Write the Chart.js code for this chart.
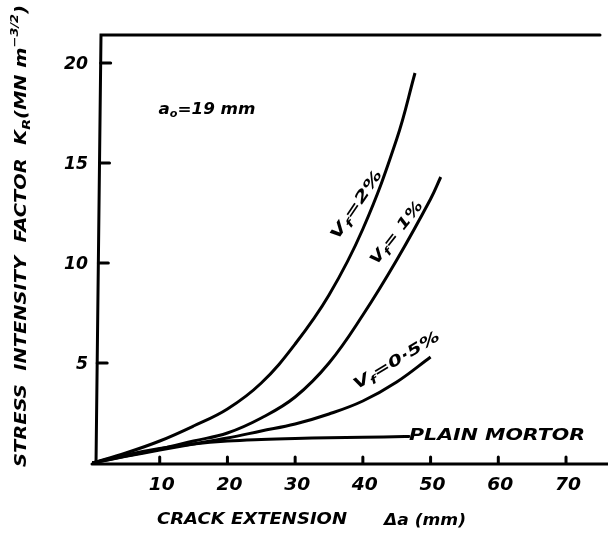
<!DOCTYPE html>
<html>
<head>
<meta charset="UTF-8">
<title>Crack extension vs K_R</title>
<script src="https://cdn.jsdelivr.net/npm/chart.js@4.4.0/dist/chart.umd.min.js"></script>
<style>
  html, body { margin: 0; padding: 0; background: #fff; }
  #wrap { width: 608px; height: 539px; }
</style>
</head>
<body>
<div id="wrap"><canvas id="myChart" width="608" height="539"></canvas></div>

<script>
// crack extension (mm) / K_R values
let vf2X = [0, 5, 10, 15, 20, 25, 30, 35, 40, 45, 47.7];
let vf2Y = [0, 0.5, 1.1, 1.85, 2.7, 4.0, 5.95, 8.4, 11.7, 16.2, 19.5];

let vf1X = [0, 5, 10, 15, 20, 25, 30, 35, 40, 45, 50, 51.5];
let vf1Y = [0, 0.35, 0.7, 1.1, 1.5, 2.25, 3.3, 5.0, 7.4, 10.15, 13.2, 14.3];

let vf05X = [0, 5, 10, 15, 20, 25, 30, 35, 40, 45, 50];
let vf05Y = [0, 0.33, 0.65, 0.95, 1.25, 1.6, 1.95, 2.45, 3.1, 4.05, 5.3];

let plainX = [0, 5, 10, 15, 20, 25, 30, 35, 40, 46.2];
let plainY = [0, 0.4, 0.72, 0.95, 1.1, 1.18, 1.23, 1.26, 1.29, 1.32];

let xTicks = [10, 20, 30, 40, 50, 60, 70];
let yTicks = [5, 10, 15, 20];

function pts(xs, ys) {
  return xs.map(function(x, i) { return {x: x, y: ys[i]}; });
}

function curve(xs, ys) {
  return {
    data: pts(xs, ys),
    borderColor: "#000",
    borderWidth: 3,
    pointRadius: 0,
    fill: false,
    tension: 0.4
  };
}

const HAND = "'DejaVu Sans', sans-serif";

// text squeezed/stretched to a given width
function txt(ctx, s, x, y, w, size, ang, align) {
  ctx.save();
  ctx.font = "bold oblique " + size + "px " + HAND;
  let m = ctx.measureText(s).width;
  ctx.translate(x, y);
  ctx.rotate((ang || 0) * Math.PI / 180);
  ctx.scale(w ? w / m : 1, 1);
  ctx.textAlign = align || "center";
  ctx.textBaseline = "middle";
  ctx.fillStyle = "#000";
  ctx.fillText(s, 0, 0);
  ctx.restore();
}

// label with pieces: [text, size, dy]
function parts(ctx, list, x, y, w, ang) {
  ctx.save();
  let total = 0;
  list.forEach(function(p) {
    ctx.font = "bold oblique " + p[1] + "px " + HAND;
    total += ctx.measureText(p[0]).width;
  });
  ctx.translate(x, y);
  ctx.rotate(ang * Math.PI / 180);
  ctx.scale(w / total, 1);
  ctx.textBaseline = "middle";
  ctx.fillStyle = "#000";
  let cx = -total / 2;
  list.forEach(function(p) {
    ctx.font = "bold oblique " + p[1] + "px " + HAND;
    ctx.fillText(p[0], cx, p[2]);
    cx += ctx.measureText(p[0]).width;
  });
  ctx.restore();
}

const decor = {
  id: "decor",
  afterDatasetsDraw(chart) {
    const ctx = chart.ctx;
    const xs = chart.scales.x, ys = chart.scales.y;
    const a = chart.chartArea;
    const x0 = xs.getPixelForValue(0), y0 = ys.getPixelForValue(0);

    ctx.save();
    ctx.strokeStyle = "#000";
    ctx.lineCap = "round";
    ctx.lineWidth = 3;
    // frame: left, bottom, top
    ctx.beginPath();
    ctx.moveTo(x0 + 4, y0 + 1);
    ctx.lineTo(x0 + 9, a.top);
    ctx.lineTo(a.right - 8, a.top);
    ctx.moveTo(x0, y0 + 1);
    ctx.lineTo(a.right, y0 + 1);
    ctx.stroke();

    // inner ticks
    ctx.lineWidth = 2;
    ctx.beginPath();
    xTicks.forEach(function(v) {
      let p = xs.getPixelForValue(v);
      ctx.moveTo(p, y0);
      ctx.lineTo(p, y0 - 6);
    });
    yTicks.forEach(function(v) {
      let p = ys.getPixelForValue(v);
      let lx = x0 + 4 + 5 * (v / 21.4);
      ctx.moveTo(lx, p);
      ctx.lineTo(lx + 10, p);
    });
    // tail of the plain mortar line up to its label
    ctx.lineWidth = 3;
    ctx.moveTo(xs.getPixelForValue(plainX[plainX.length - 1]), ys.getPixelForValue(plainY[plainY.length - 1]));
    ctx.lineTo(xs.getPixelForValue(46.8), ys.getPixelForValue(1.33));
    ctx.stroke();
    ctx.restore();

    // tick labels
    xTicks.forEach(function(v) {
      txt(ctx, String(v), xs.getPixelForValue(v) + 2, y0 + 23, 26, 17, 0);
    });
    yTicks.forEach(function(v) {
      txt(ctx, String(v), x0 - 4, ys.getPixelForValue(v) + 2, v < 10 ? 12 : 24, 17, 0, "right");
    });

    // axis titles
    txt(ctx, "CRACK EXTENSION", 252, 520, 190, 15, 0);
    txt(ctx, "\u0394a (mm)", 425, 521, 82, 16, 0);
    parts(ctx, [
      ["STRESS  INTENSITY  FACTOR  K", 15, 0],
      ["R", 11, 5],
      ["(MN m", 15, 0],
      ["\u22123/2", 10, -7],
      [")", 15, 0]
    ], 22, 236, 462, -90);

    // annotations
    parts(ctx, [["a", 15, 0], ["o", 10, 4], ["=19 mm", 15, 0]], 207, 110, 97, 0);
    parts(ctx, [["V", 15, 0], ["f", 11, 5], ["=2%", 15, 0]], 357, 205, 80, -56);
    parts(ctx, [["V", 15, 0], ["f", 11, 5], ["= 1%", 15, 0]], 397, 233, 76, -52);
    parts(ctx, [["V", 15, 0], ["f", 11, 5], ["=0\u00b75%", 15, 0]], 397, 361, 98, -31);
    txt(ctx, "PLAIN MORTOR", 497, 436, 176, 16, 0);
  }
};

new Chart("myChart", {
  type: "line",
  data: {
    datasets: [
      curve(vf2X, vf2Y),
      curve(vf1X, vf1Y),
      curve(vf05X, vf05Y),
      curve(plainX, plainY)
    ]
  },
  options: {
    responsive: false,
    animation: false,
    layout: { padding: { left: 92, top: 35, right: 0, bottom: 76 } },
    plugins: { legend: { display: false }, tooltip: { enabled: false } },
    scales: {
      x: { type: "linear", min: 0, max: 76.2, display: false },
      y: { type: "linear", min: 0, max: 21.4, display: false }
    }
  },
  plugins: [decor]
});
</script>
</body>
</html>
